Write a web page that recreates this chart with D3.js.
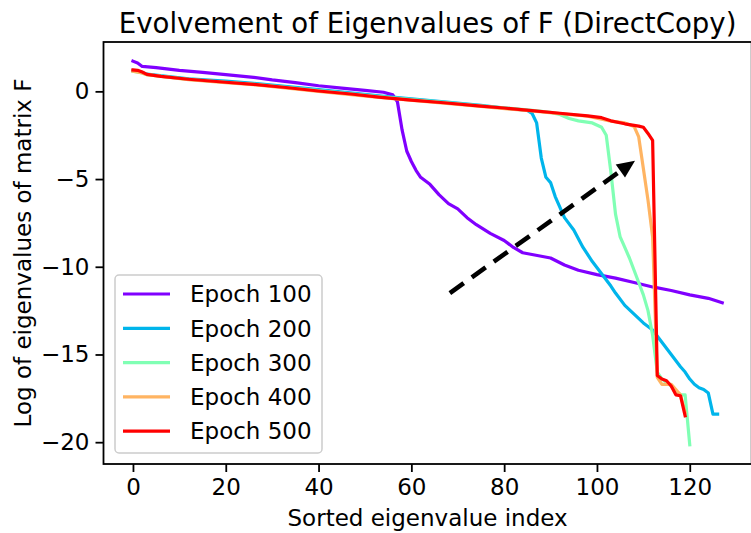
<!DOCTYPE html>
<html>
<head>
<meta charset="utf-8">
<script src="https://cdn.jsdelivr.net/npm/d3@7"></script>
<style>
  body { margin: 0; background: #fff; }
  svg text { font-family: "DejaVu Sans", sans-serif; fill: #000; }
</style>
</head>
<body>
<div id="graph"></div>
<script>
// eigenvalue curves as [sorted index, log eigenvalue]
const epochLabels = ["Epoch 100", "Epoch 200", "Epoch 300", "Epoch 400", "Epoch 500"];

const epoch100 = [[0,1.72],[1,1.62],[2,1.42],[5,1.35],[10,1.2],[15,1.08],[20,0.95],[26,0.8],[30,0.65],[35,0.5],
  [40,0.32],[45,0.18],[50,0.06],[54,-0.05],[56,-0.2],[57,-0.6],[58,-2.2],[59,-3.4],[60,-4.0],[61,-4.5],[62,-4.9],
  [64,-5.3],[66,-5.9],[68,-6.4],[70,-6.7],[72,-7.2],[74,-7.6],[77,-8.1],[80,-8.5],[82,-8.9],[84,-9.2],[86,-9.3],
  [88,-9.4],[90,-9.5],[93,-9.9],[96,-10.2],[100,-10.45],[104,-10.65],[108,-10.9],[112,-11.15],[116,-11.35],
  [120,-11.6],[124,-11.8],[127,-12.05]];

const epoch200 = [[0,1.18],[2,1.08],[3,0.98],[12,0.72],[20,0.58],[26,0.46],[40,0.1],[53,-0.25],[60,-0.42],[67,-0.6],
  [75,-0.8],[80,-0.95],[85,-1.08],[86,-1.25],[87,-1.8],[88,-3.8],[89,-4.9],[90,-5.2],[91,-6.0],[92,-6.6],[93,-7.2],
  [95,-7.9],[97,-8.9],[99,-9.7],[101,-10.4],[103,-11.1],[104,-11.5],[106,-12.2],[108,-12.7],[110,-13.2],[112,-13.6],
  [114,-14.3],[116,-15.0],[118,-15.7],[119,-16.0],[120,-16.4],[121,-16.7],[122,-16.9],[123,-17.0],[124,-17.2],
  [125,-18.4],[126,-18.4]];

const epoch300 = [[0,1.15],[2,1.05],[3,0.95],[12,0.68],[20,0.52],[26,0.42],[40,0.05],[53,-0.3],[67,-0.62],[75,-0.82],
  [86,-1.08],[90,-1.2],[92,-1.32],[94,-1.55],[96,-1.68],[99,-1.8],[101,-2.05],[102,-2.5],[103,-4.6],[104,-7.0],
  [105,-8.3],[106,-8.9],[107,-9.5],[108,-10.2],[109,-10.9],[110,-11.6],[111,-12.5],[112,-13.9],[113,-16.0],
  [114,-16.4],[115,-16.6],[116,-16.8],[117,-17.1],[118,-17.3],[119,-17.3],[120,-20.15]];

const epoch400 = [[0,1.15],[2,1.05],[3,0.95],[12,0.66],[20,0.5],[26,0.38],[40,0.0],[53,-0.35],[67,-0.67],[75,-0.86],
  [86,-1.12],[92,-1.27],[98,-1.42],[103,-1.7],[106,-1.8],[108,-2.0],[109,-2.6],[110,-4.4],[111,-6.2],[112,-8.3],
  [113,-16.3],[114,-16.7],[116,-16.7],[117,-17.0],[118,-17.3],[119,-18.3]];

const epoch500 = [[0,1.22],[1,1.2],[2,1.1],[3,0.97],[6,0.85],[12,0.69],[20,0.52],[26,0.4],[33,0.22],[40,0.02],
  [47,-0.15],[53,-0.33],[60,-0.5],[67,-0.65],[75,-0.84],[80,-0.95],[86,-1.1],[92,-1.25],[98,-1.4],[101,-1.5],
  [103,-1.68],[106,-1.85],[109,-1.98],[110,-2.05],[111,-2.4],[112,-2.8],[113,-16.2],[114,-16.4],[115,-16.5],
  [116,-16.8],[117,-17.3],[118,-17.35],[119,-18.5]];

const xTicks = [0, 20, 40, 60, 80, 100, 120];
const yTicks = [0, -5, -10, -15, -20];

// dashed annotation arrow (from, to) in data units
const arrowFrom = [68.3, -11.5];
const arrowTo = [108.2, -3.95];

// rainbow colormap sampled at 0, .25, .5, .75, 1
const colors = ["#8000ff", "#00b5eb", "#80ffb4", "#ffb462", "#ff0000"];

const series = [epoch100, epoch200, epoch300, epoch400, epoch500];

const width = 751, height = 533;
const plot = { left: 103.5, right: 751.7, top: 42, bottom: 464 };

let svg = d3.select("#graph")
    .append("svg")
    .attr("width", width)
    .attr("height", height);

// x limits padded by 5% like matplotlib
let allPts = series.flat();
let xMin = 0, xMax = d3.max(allPts, d => d[0]);
let xPad = (xMax - xMin) * 0.05;
let x_axis = d3.scaleLinear()
    .domain([xMin - xPad, xMax + xPad])
    .range([plot.left, plot.right]);

let yExt = d3.extent(allPts, d => d[1]);
let yPad = (yExt[1] - yExt[0]) * 0.05;
let y_axis = d3.scaleLinear()
    .domain([yExt[0] - yPad, yExt[1] + yPad])
    .range([plot.bottom, plot.top]);

// curves
let line = d3.line()
    .x(d => x_axis(d[0]))
    .y(d => y_axis(d[1]));

svg.append("g")
    .selectAll("path")
    .data(series)
    .enter()
    .append("path")
    .attr("d", d => line(d))
    .attr("fill", "none")
    .attr("stroke", (d, i) => colors[i])
    .attr("stroke-width", 3.2)
    .attr("stroke-linejoin", "round")
    .attr("stroke-linecap", "square");

// dashed arrow
let ax0 = x_axis(arrowFrom[0]), ay0 = y_axis(arrowFrom[1]);
let ax1 = x_axis(arrowTo[0]), ay1 = y_axis(arrowTo[1]);
let ang = Math.atan2(ay1 - ay0, ax1 - ax0);
let headLen = 18, headHalf = 8;
let bx = ax1 - headLen * Math.cos(ang), by = ay1 - headLen * Math.sin(ang);

svg.append("line")
    .attr("x1", ax0).attr("y1", ay0)
    .attr("x2", bx).attr("y2", by)
    .attr("stroke", "#000")
    .attr("stroke-width", 4.6)
    .attr("stroke-dasharray", "17,10");

svg.append("path")
    .attr("d", `M${ax1},${ay1}` +
        `L${bx + headHalf * Math.sin(ang)},${by - headHalf * Math.cos(ang)}` +
        `L${bx - headHalf * Math.sin(ang)},${by + headHalf * Math.cos(ang)}Z`)
    .attr("fill", "#000");

// axes
let xAxisG = svg.append("g")
    .attr("transform", `translate(0,${plot.bottom})`)
    .call(d3.axisBottom(x_axis).tickValues(xTicks).tickSize(8).tickPadding(6));

let yAxisG = svg.append("g")
    .attr("transform", `translate(${plot.left},0)`)
    .call(d3.axisLeft(y_axis).tickValues(yTicks).tickSize(8).tickPadding(6)
        .tickFormat(d => d < 0 ? "\u2212" + Math.abs(d) : d));

[xAxisG, yAxisG].forEach(function(g) {
    g.select(".domain").remove();
    g.selectAll(".tick line").attr("stroke", "#000").attr("stroke-width", 1.8);
    g.selectAll(".tick text").style("font-size", "23px").attr("fill", "#000");
});
xAxisG.selectAll(".tick text").attr("dy", "0.72em");

// frame
svg.append("rect")
    .attr("x", plot.left)
    .attr("y", plot.top)
    .attr("width", plot.right - plot.left)
    .attr("height", plot.bottom - plot.top)
    .attr("fill", "none")
    .attr("stroke", "#000")
    .attr("stroke-width", 1.8);

// title and axis labels
svg.append("text")
    .attr("x", (plot.left + plot.right) / 2)
    .attr("y", 33)
    .style("text-anchor", "middle")
    .style("font-size", "27.6px")
    .text("Evolvement of Eigenvalues of F (DirectCopy)");

svg.append("text")
    .attr("x", (plot.left + plot.right) / 2)
    .attr("y", 526)
    .style("text-anchor", "middle")
    .style("font-size", "23px")
    .text("Sorted eigenvalue index");

svg.append("text")
    .attr("transform", `translate(31,${(plot.top + plot.bottom) / 2}) rotate(-90)`)
    .style("text-anchor", "middle")
    .style("font-size", "23px")
    .text("Log of eigenvalues of matrix F");

// legend - lower left
let legend = svg.append("g").attr("transform", "translate(115,275)");
legend.append("rect")
    .attr("width", 207)
    .attr("height", 178)
    .attr("rx", 4)
    .attr("fill", "#fff")
    .attr("fill-opacity", 0.8)
    .attr("stroke", "#cccccc")
    .attr("stroke-width", 1.5);

let items = legend.selectAll(".item")
    .data(epochLabels)
    .enter()
    .append("g")
    .attr("transform", (d, i) => `translate(0,${19 + i * 34.3})`);

items.append("line")
    .attr("x1", 8).attr("x2", 55)
    .attr("stroke", (d, i) => colors[i])
    .attr("stroke-width", 3.2);

items.append("text")
    .attr("x", 75)
    .attr("dy", "0.36em")
    .style("font-size", "23px")
    .text(d => d);
</script>
</body>
</html>
